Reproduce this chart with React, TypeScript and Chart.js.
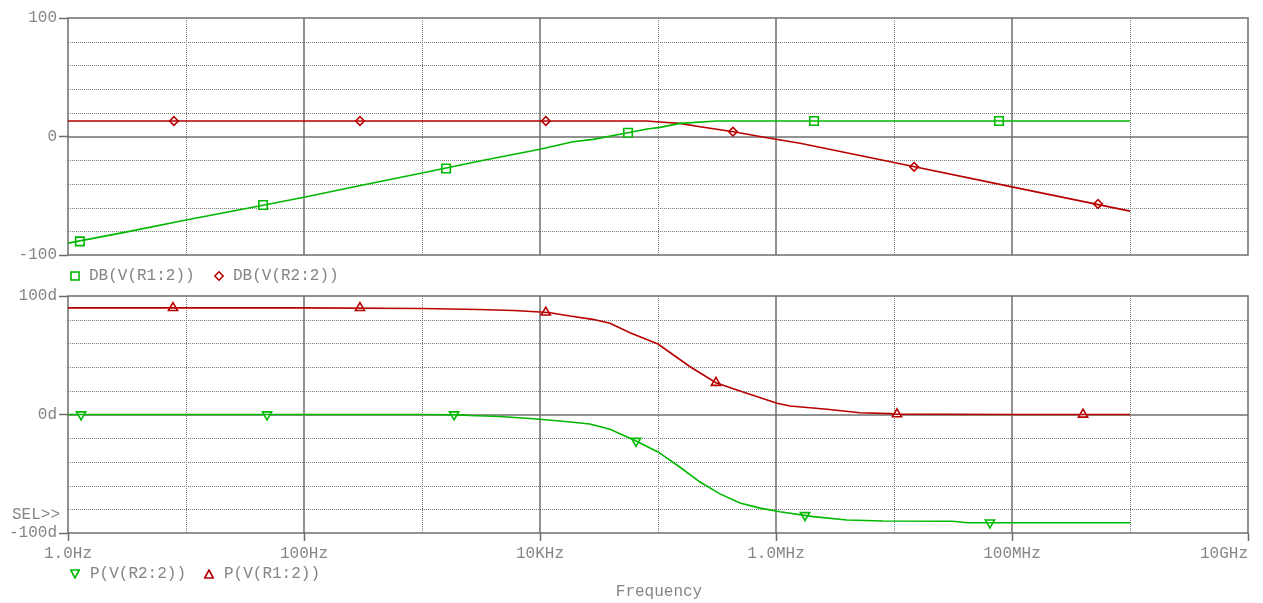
import React, { useEffect, useRef } from 'react';
import { Chart, registerables } from 'chart.js';

Chart.register(...registerables);

const GREEN = '#00b800';
const RED = '#b80000';
const TEXT = '#858585';
const SOLID = '#6e6e6e';
const DOT = '#7a7a7a';
const FONT = "'Liberation Mono', 'Courier New', monospace";

// ---------- x axis (frequency, Hz) ----------
const decadeTicks = [1, 10, 100, 1e3, 1e4, 1e5, 1e6, 1e7, 1e8, 1e9, 1e10];
const decadeLabels = ['1.0Hz', '', '100Hz', '', '10KHz', '', '1.0MHz', '', '100MHz', '', '10GHz     '];

// ---------- y axis grid and labels ----------
const yGridValues = [-100, -80, -60, -40, -20, 0, 20, 40, 60, 80, 100];
const dbTickValues = [100, 0, -100];
const dbTickLabels = ['100', '0', '-100'];
const phTickValues = [100, 0, -100];
const phTickLabels = ['100d', '0d', '-100d'];

// ---------- DB(V(R1:2)) (green, top) ----------
const dbR1Freq = [1, 3.16, 10, 31.6, 100, 316, 1000, 3160, 10000, 19000, 28100, 55700, 80700, 104000, 153000, 316000, 1e6, 1e7, 1e8, 1e9];
const dbR1Val = [-90, -80.5, -70.5, -61, -51.3, -41, -30.8, -20.5, -10.8, -4.4, -2.4, 3.2, 6.3, 7.7, 11.1, 13.1, 13.1, 13.1, 13.1, 13.1];
const dbR1MarkFreq = [1.26, 45, 1600, 55700, 2.1e6, 7.76e7];
const dbR1MarkVal = [-88.5, -57.8, -27, 3.2, 13.1, 13.1];

// ---------- DB(V(R2:2)) (red, top) ----------
const dbR2Freq = [1, 1000, 1e4, 80700, 104000, 153000, 227000, 424000, 840000, 1.6e6, 1e7, 1e8, 1e9];
const dbR2Val = [13.1, 13.1, 13.1, 13.1, 12.2, 11.1, 8.3, 4.2, -1, -5.7, -22, -42.5, -63];
const dbR2MarkFreq = [7.9, 298, 11200, 432000, 1.48e7, 5.36e8];
const dbR2MarkVal = [13.1, 13.1, 13.1, 4.1, -25.6, -57];

// ---------- P(V(R2:2)) (green, bottom) ----------
const pR2Freq = [1, 1000, 2100, 2550, 4580, 8230, 14800, 26500, 39200, 65100, 1e5, 153000, 227000, 335000, 495000, 731000, 1.08e6, 2.06e6, 4e6, 8.07e6, 3.16e7, 4.16e7, 1e8, 1e9];
const pR2Val = [0, 0, -0.3, -0.8, -1.7, -3.4, -5.5, -8, -12.5, -22.4, -31.6, -44.3, -57, -67, -74.7, -79, -82, -86.2, -89, -89.9, -90.1, -91.3, -91.3, -91.3];
const pR2MarkFreq = [1.29, 48.6, 1870, 65100, 1.76e6, 6.5e7];
const pR2MarkVal = [0, 0, 0, -22.4, -85, -91.3];

// ---------- P(V(R1:2)) (red, bottom) ----------
const pR1Freq = [1, 100, 1000, 3000, 6000, 10000, 12200, 17900, 28000, 39200, 57900, 1e5, 187000, 310000, 467000, 1.02e6, 1.32e6, 2.7e6, 5.15e6, 9.25e6, 1e7, 1e8, 1e9];
const pR1Val = [90, 90, 89.5, 88.6, 87.8, 86.5, 85.9, 83.1, 80.3, 77, 69, 59.5, 40.3, 26.8, 20.7, 9.5, 7.2, 4.4, 1.5, 0.7, 0.3, 0, 0];
const pR1MarkFreq = [7.76, 298, 11200, 310000, 1.06e7, 4e8];
const pR1MarkVal = [90, 90, 86.2, 26.8, 0.3, 0];

const pts = (xs: number[], ys: number[]) => xs.map((x, i) => ({ x, y: ys[i] }));

const gridPlugin = {
  id: 'pspiceGrid',
  beforeDatasetsDraw(chart: any) {
    const { ctx, chartArea: a, scales } = chart;
    const x = scales.x;
    const y = scales.y;
    ctx.save();
    // dotted lines
    ctx.lineWidth = 1;
    ctx.strokeStyle = DOT;
    ctx.setLineDash([1, 1]);
    yGridValues.forEach((v) => {
      if (v === 0 || v === y.min || v === y.max) return;
      const py = Math.round(y.getPixelForValue(v)) + 0.5;
      ctx.beginPath();
      ctx.moveTo(a.left, py);
      ctx.lineTo(a.right, py);
      ctx.stroke();
    });
    decadeTicks.forEach((v, i) => {
      if (i % 2 === 0) return;
      const px = Math.round(x.getPixelForValue(v)) + 0.5;
      ctx.beginPath();
      ctx.moveTo(px, a.top);
      ctx.lineTo(px, a.bottom);
      ctx.stroke();
    });
    // solid lines
    ctx.setLineDash([]);
    ctx.lineWidth = 1.5;
    ctx.strokeStyle = SOLID;
    const py0 = Math.round(y.getPixelForValue(0));
    ctx.beginPath();
    ctx.moveTo(a.left, py0);
    ctx.lineTo(a.right, py0);
    ctx.stroke();
    decadeTicks.forEach((v, i) => {
      if (i % 2 === 1 || i === 0 || i === decadeTicks.length - 1) return;
      const px = Math.round(x.getPixelForValue(v));
      ctx.beginPath();
      ctx.moveTo(px, a.top);
      ctx.lineTo(px, a.bottom);
      ctx.stroke();
    });
    ctx.strokeRect(Math.round(a.left), Math.round(a.top), Math.round(a.right - a.left), Math.round(a.bottom - a.top));
    ctx.restore();
  },
};

const tickFont = { family: FONT, size: 16 };

function makeConfig(
  datasets: any[],
  tickValues: number[],
  tickLabels: string[],
  showX: boolean,
  padBottom: number
): any {
  return {
    type: 'line',
    data: { datasets },
    options: {
      animation: false,
      responsive: false,
      maintainAspectRatio: false,
      devicePixelRatio: 1,
      layout: { padding: { top: 18, right: 15, bottom: padBottom, left: 0 } },
      plugins: { legend: { display: false }, tooltip: { enabled: false } },
      elements: { line: { tension: 0 } },
      scales: {
        x: {
          type: 'logarithmic',
          min: 1,
          max: 1e10,
          display: showX,
          afterBuildTicks: (s: any) => {
            s.ticks = decadeTicks.map((v) => ({ value: v }));
          },
          afterFit: (s: any) => {
            s.height = showX ? 40 : 0;
            s.paddingLeft = 0;
            s.paddingRight = 0;
          },
          border: { display: false },
          grid: {
            drawOnChartArea: false,
            drawTicks: true,
            tickLength: 8,
            tickWidth: 1.5,
            tickColor: (c: any) => (c.index % 2 === 0 ? SOLID : 'transparent'),
          },
          ticks: {
            autoSkip: false,
            maxRotation: 0,
            minRotation: 0,
            padding: 3,
            color: TEXT,
            font: tickFont,
            callback: (_v: any, i: number) => decadeLabels[i],
          },
        },
        y: {
          type: 'linear',
          min: -100,
          max: 100,
          afterBuildTicks: (s: any) => {
            s.ticks = yGridValues.map((v) => ({ value: v }));
          },
          afterFit: (s: any) => {
            s.width = 68;
            s.paddingTop = 0;
            s.paddingBottom = 0;
          },
          border: { display: false },
          grid: {
            drawOnChartArea: false,
            drawTicks: true,
            tickLength: 9,
            tickWidth: 1.5,
            tickColor: (c: any) => (c.tick && tickValues.includes(c.tick.value) ? SOLID : 'transparent'),
          },
          ticks: {
            autoSkip: false,
            padding: 2,
            color: TEXT,
            font: tickFont,
            callback: (v: any) => {
              const k = tickValues.indexOf(Number(v));
              return k >= 0 ? tickLabels[k] : '';
            },
          },
        },
      },
    },
    plugins: [gridPlugin],
  };
}

function lineSet(xs: number[], ys: number[], color: string) {
  return {
    data: pts(xs, ys),
    borderColor: color,
    borderWidth: 1.6,
    pointRadius: 0,
    fill: false,
  };
}

function markSet(xs: number[], ys: number[], color: string, style: string, radius: number, rotation = 0) {
  return {
    data: pts(xs, ys),
    showLine: false,
    pointStyle: style,
    pointRadius: radius,
    pointRotation: rotation,
    pointBorderColor: color,
    pointBackgroundColor: '#ffffff',
    pointBorderWidth: 1.6,
    borderColor: color,
    clip: false,
  };
}

const textStyle: React.CSSProperties = {
  position: 'absolute',
  fontFamily: FONT,
  fontSize: 16,
  lineHeight: '18px',
  color: TEXT,
  whiteSpace: 'pre',
};

function Glyph({ kind, color, left, top }: { kind: string; color: string; left: number; top: number }) {
  let shape: any = null;
  if (kind === 'square') shape = <rect x={1} y={1} width={8} height={8} fill="none" stroke={color} strokeWidth={1.6} />;
  if (kind === 'diamond') shape = <polygon points="5,0.8 9.2,5 5,9.2 0.8,5" fill="none" stroke={color} strokeWidth={1.6} />;
  if (kind === 'up') shape = <polygon points="5,1 9.3,9 0.7,9" fill="none" stroke={color} strokeWidth={1.6} />;
  if (kind === 'down') shape = <polygon points="0.7,1 9.3,1 5,9" fill="none" stroke={color} strokeWidth={1.6} />;
  return (
    <svg width={10} height={10} style={{ position: 'absolute', left, top }}>
      {shape}
    </svg>
  );
}

export default function App() {
  const topRef = useRef<HTMLCanvasElement | null>(null);
  const botRef = useRef<HTMLCanvasElement | null>(null);

  useEffect(() => {
    const top = new Chart(
      topRef.current as HTMLCanvasElement,
      makeConfig(
        [
          lineSet(dbR1Freq, dbR1Val, GREEN),
          lineSet(dbR2Freq, dbR2Val, RED),
          markSet(dbR1MarkFreq, dbR1MarkVal, GREEN, 'rect', 6),
          markSet(dbR2MarkFreq, dbR2MarkVal, RED, 'rectRot', 4.3),
        ],
        dbTickValues,
        dbTickLabels,
        false,
        15
      )
    );
    const bot = new Chart(
      botRef.current as HTMLCanvasElement,
      makeConfig(
        [
          lineSet(pR2Freq, pR2Val, GREEN),
          lineSet(pR1Freq, pR1Val, RED),
          markSet(pR2MarkFreq, pR2MarkVal, GREEN, 'triangle', 5.3, 180),
          markSet(pR1MarkFreq, pR1MarkVal, RED, 'triangle', 5.3, 0),
        ],
        phTickValues,
        phTickLabels,
        true,
        30
      )
    );
    return () => {
      top.destroy();
      bot.destroy();
    };
  }, []);

  return (
    <div style={{ position: 'fixed', left: 0, top: 0, width: 1263, height: 603, background: '#ffffff', overflow: 'hidden' }}>
      <canvas ref={topRef} width={1263} height={270} style={{ position: 'absolute', left: 0, top: 0, width: 1263, height: 270 }} />
      <canvas ref={botRef} width={1263} height={325} style={{ position: 'absolute', left: 0, top: 278, width: 1263, height: 325 }} />

      <Glyph kind="square" color={GREEN} left={70} top={271} />
      <div style={{ ...textStyle, left: 89, top: 267 }}>DB(V(R1:2))</div>
      <Glyph kind="diamond" color={RED} left={214} top={271} />
      <div style={{ ...textStyle, left: 233, top: 267 }}>DB(V(R2:2))</div>

      <div style={{ ...textStyle, left: 12, top: 506 }}>{'SEL>>'}</div>

      <Glyph kind="down" color={GREEN} left={70} top={569} />
      <div style={{ ...textStyle, left: 90, top: 565 }}>P(V(R2:2))</div>
      <Glyph kind="up" color={RED} left={204} top={569} />
      <div style={{ ...textStyle, left: 224, top: 565 }}>P(V(R1:2))</div>

      <div style={{ ...textStyle, left: 659, top: 583, transform: 'translateX(-50%)' }}>Frequency</div>
    </div>
  );
}
